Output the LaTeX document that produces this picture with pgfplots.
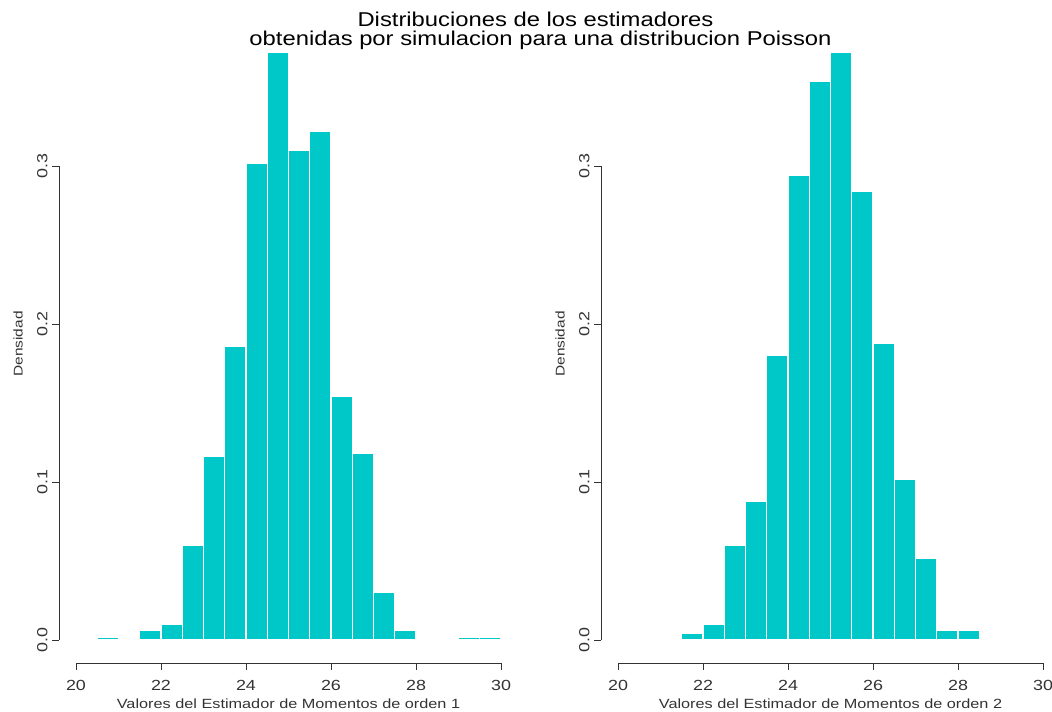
\documentclass[border=0pt]{standalone}
\usepackage{pgfplots}
\pgfplotsset{compat=1.18}
\usepackage{fontspec}
\setmainfont[FakeStretch=1.22]{Liberation Sans}
\newfontfamily\titlefont[FakeStretch=1.19]{Liberation Sans}
\definecolor{cyanR}{HTML}{00C8C8}
\definecolor{axgray}{HTML}{333333}

\pgfplotstableread{
x y
20.5 0.002
21.0 0
21.5 0.006
22.0 0.010
22.5 0.060
23.0 0.116
23.5 0.186
24.0 0.302
24.5 0.372
25.0 0.310
25.5 0.322
26.0 0.154
26.5 0.118
27.0 0.030
27.5 0.006
28.0 0
28.5 0
29.0 0.002
29.5 0.002
30.0 0
}\momentA

\pgfplotstableread{
x y
21.5 0.004
22.0 0.010
22.5 0.060
23.0 0.088
23.5 0.180
24.0 0.294
24.5 0.354
25.0 0.372
25.5 0.284
26.0 0.188
26.5 0.102
27.0 0.052
27.5 0.006
28.0 0.006
28.5 0
}\momentB

\pgfplotsset{
  rhist/.style={
    scale only axis,
    width=344.25pt, height=475.875pt,
    anchor=south west,
    xmin=19.6, xmax=30.4,
    ymin=-0.01488, ymax=0.38688,
    axis x line*=bottom, axis y line*=left,
    axis line style={draw=none},
    tick align=outside,
    major tick length=5pt,
    tick style={axgray, line width=0.6pt},
    xtick={20,22,...,30},
    ytick={0,0.1,0.2,0.3},
    yticklabels={0.0,0.1,0.2,0.3},
    xticklabel style={font=\fontsize{11}{13}\selectfont, text=axgray, yshift=-4pt},
    yticklabel style={font=\fontsize{11}{13}\selectfont, text=axgray, rotate=90, anchor=south},
    /pgf/number format/assume math mode=true,
    xlabel style={font=\fontsize{10}{12}\selectfont, text=axgray, at={(axis description cs:0.5,0)}, anchor=center, yshift=-30.4pt},
    ylabel style={font=\fontsize{9.5}{12}\selectfont, text=axgray, at={(axis description cs:-0.0893,0.5035)}, anchor=center},
    ylabel={Densidad},
  },
}

\begin{document}
\begin{tikzpicture}
\useasboundingbox (0,0) rectangle (789pt,534pt);

\begin{axis}[rhist, at={(44.25pt,36.375pt)},
  xlabel={Valores del Estimador de Momentos de orden 1}]
\addplot[ybar interval, fill=cyanR, draw=white, line width=1pt] table[x=x,y=y] {\momentA};
\draw[axgray, line width=0.6pt] (axis cs:20,-0.01488) -- (axis cs:30,-0.01488);
\draw[axgray, line width=0.6pt] (axis cs:19.6,0) -- (axis cs:19.6,0.3);
\end{axis}

\begin{axis}[rhist, at={(450.75pt,36.375pt)},
  xlabel={Valores del Estimador de Momentos de orden 2}]
\addplot[ybar interval, fill=cyanR, draw=white, line width=1pt] table[x=x,y=y] {\momentB};
\draw[axgray, line width=0.6pt] (axis cs:20,-0.01488) -- (axis cs:30,-0.01488);
\draw[axgray, line width=0.6pt] (axis cs:19.6,0) -- (axis cs:19.6,0.3);
\end{axis}

\node[font=\titlefont\fontsize{15}{17}\selectfont, anchor=base, inner sep=0pt] at (401.6pt,514pt) {Distribuciones de los estimadores};
\node[font=\titlefont\fontsize{15}{17}\selectfont, anchor=base, inner sep=0pt] at (405.4pt,500pt) {obtenidas por simulacion para una distribucion Poisson};
\end{tikzpicture}
\end{document}
